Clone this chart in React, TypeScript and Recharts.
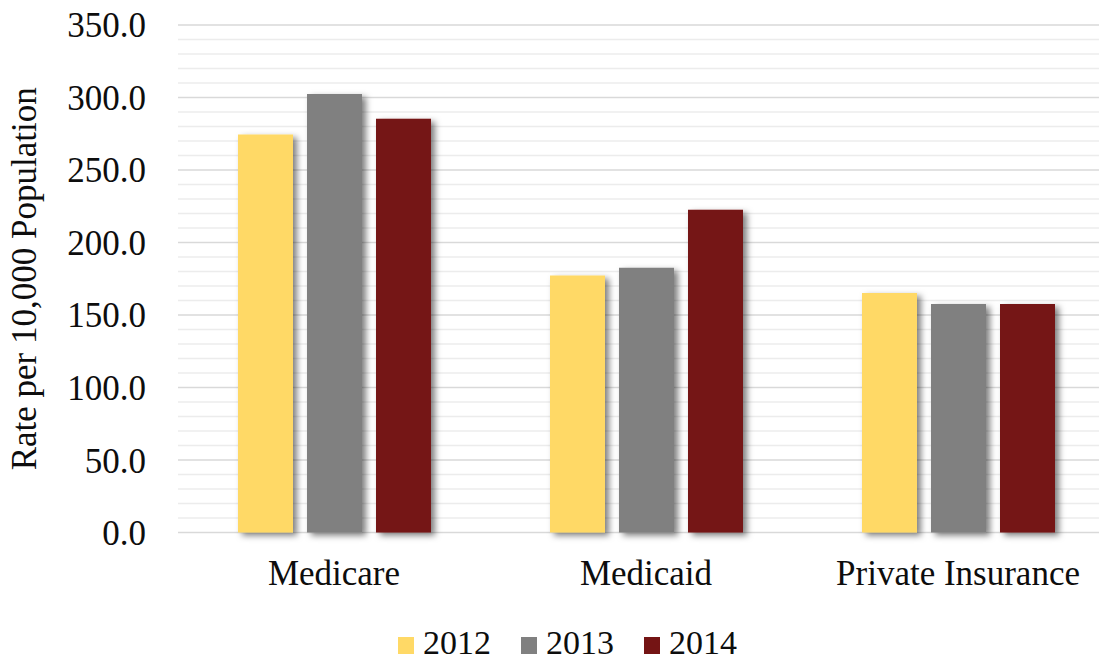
import React from 'react';
import { BarChart, Bar, XAxis, YAxis, CartesianGrid, Legend } from 'recharts';

const categories = ['Medicare', 'Medicaid', 'Private Insurance'];
const values2012 = [274.5, 177.3, 165.2];
const values2013 = [302.5, 182.6, 157.6];
const values2014 = [285.3, 222.6, 157.6];
const seriesNames = ['2012', '2013', '2014'];
const seriesColors = ['#FFD966', '#808080', '#741414'];
const majorTicks = [0, 50, 100, 150, 200, 250, 300, 350];
const minorTicks = [10, 20, 30, 40, 60, 70, 80, 90, 110, 120, 130, 140, 160, 170, 180, 190, 210, 220, 230, 240, 260, 270, 280, 290, 310, 320, 330, 340];
const yDomain = [0, 350];
const yLabel = 'Rate per 10,000 Population';

const data = categories.map((c, i) => ({
  category: c,
  s2012: values2012[i],
  s2013: values2013[i],
  s2014: values2014[i],
}));

const FONT = '"Liberation Serif", "Times New Roman", serif';
const TEXT = '#0d0d0d';

const LegendContent = (props: any) => {
  const payload = props.payload || [];
  return (
    <div style={{ display: 'flex', alignItems: 'baseline', height: 40, lineHeight: '40px', paddingLeft: 398, fontFamily: FONT, color: TEXT }}>
      {payload.map((p: any, i: number) => (
        <div key={i} style={{ display: 'flex', alignItems: 'baseline', marginRight: 30 }}>
          <span style={{ display: 'inline-block', width: 16, height: 17, background: p.color }} />
          <span style={{ marginLeft: 9, fontSize: 34, fontFamily: FONT, color: TEXT }}>{p.value}</span>
        </div>
      ))}
    </div>
  );
};

const minorGen = (props: any) => {
  const axis = props && props.yAxis;
  const s = axis && axis.scale;
  return minorTicks.map((t) => {
    if (typeof s === 'function') return s(t);
    if (s && typeof s.map === 'function') return s.map(t);
    const off = props.offset;
    return off.top + off.height * (1 - (t - yDomain[0]) / (yDomain[1] - yDomain[0]));
  });
};

export default function App() {
  return (
    <div style={{ position: 'relative', width: 1107, height: 662, overflow: 'hidden', margin: -8, background: '#fff', fontFamily: FONT }}>
      <BarChart
        width={1114}
        height={662}
        data={data}
        margin={{ top: 25, right: 0, bottom: 0, left: 0 }}
        barGap={14}
        style={{ fontFamily: FONT }}
      >
        <defs>
          <filter id="barShadow" x="-20%" y="-10%" width="160%" height="130%">
            <feDropShadow dx="4" dy="3" stdDeviation="3" floodColor="#000" floodOpacity="0.5" />
          </filter>
        </defs>
        <CartesianGrid vertical={false} stroke="#ececec" strokeWidth={1.5} horizontalCoordinatesGenerator={minorGen} />
        <CartesianGrid vertical={false} stroke="#d9d9d9" strokeWidth={1.5} />
        <XAxis
          dataKey="category"
          tickLine={false}
          axisLine={false}
          tickSize={0}
          tickMargin={28}
          height={89.4}
          interval={0}
          tick={{ fontSize: 35, fill: TEXT, fontFamily: FONT }}
        />
        <YAxis
          domain={yDomain}
          ticks={majorTicks}
          type="number"
          width={178}
          tickLine={false}
          axisLine={false}
          tickSize={0}
          tickMargin={32}
          tickFormatter={(v: number) => v.toFixed(1)}
          tick={{ fontSize: 35, fill: TEXT, fontFamily: FONT }}
          label={{
            value: yLabel,
            angle: -90,
            position: 'insideLeft',
            offset: 24,
            style: { textAnchor: 'middle', fontSize: 35, fill: TEXT, fontFamily: FONT },
          }}
        />
        <Legend
          verticalAlign="bottom"
          content={<LegendContent />}
          wrapperStyle={{ left: 0, top: 623, bottom: 'auto', width: 1107, height: 40, fontFamily: FONT }}
        />
        <Bar dataKey="s2012" name={seriesNames[0]} fill={seriesColors[0]} barSize={55} isAnimationActive={false} filter="url(#barShadow)" />
        <Bar dataKey="s2013" name={seriesNames[1]} fill={seriesColors[1]} barSize={55} isAnimationActive={false} filter="url(#barShadow)" />
        <Bar dataKey="s2014" name={seriesNames[2]} fill={seriesColors[2]} barSize={55} isAnimationActive={false} filter="url(#barShadow)" />
      </BarChart>
    </div>
  );
}
